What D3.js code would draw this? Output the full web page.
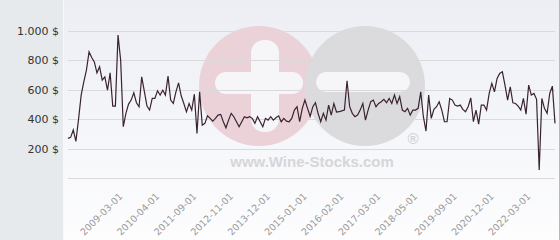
<!DOCTYPE html>
<html><head><meta charset="utf-8">
<script src="https://cdn.jsdelivr.net/npm/d3@7"></script>
<style>body{margin:0;overflow:hidden;background:#fff}svg{display:block}</style>
</head><body><svg id="c" width="560" height="240"></svg>
<script>
// Price series (USD), one value per category
const values = [
271,278,328,251,400,565,655,734,858,820,790,716,757,666,689,598,716,490,490,972,802,350,441,504,531,580,513,486,689,590,490,463,542,542,594,565,598,565,694,531,508,587,648,560,508,451,508,463,571,305,
587,361,373,424,407,388,407,429,434,384,343,395,441,418,384,350,384,418,411,418,407,373,418,384,350,407,395,418,395,411,424,384,407,388,384,407,463,486,384,475,531,475,420,
486,513,441,384,441,395,497,429,508,450,452,458,463,662,486,441,418,429,463,508,395,463,520,531,486,508,520,536,513,542,508,565,508,554,463,452,475,429,463,463,475,587,
418,321,565,407,468,486,520,463,384,384,542,531,497,490,497,468,452,486,546,384,463,368,497,497,463,576,644,587,678,712,723,633,531,621,513,508,490,463,542,436,633,565,576,536,56,542,475,441,576,626,373
];
const tickLabels = ["2009-03-01","2010-04-01","2011-09-01","2012-11-01","2013-12-01","2015-01-01","2016-02-01","2017-03-01","2018-05-01","2019-09-01","2020-12-01","2022-03-01"];
const tickIndex = [21,35,49,63,77,91,105,119,133,148,162,176];
const yTicks = [200,400,600,800,1000];

const W = 560, H = 240;
const svg = d3.select("#c");
const mLeft = 68, mRight = 555, mTop = 31, mBottom = 178.3;

const x = d3.scaleLinear().domain([0, values.length - 1]).range([mLeft, mRight]);
const y = d3.scaleLinear().domain([0, 1000]).range([mBottom, mTop]);
const fmt = d3.formatLocale({decimal: ",", thousands: ".", grouping: [3], currency: ["", " $"]}).format(",");

// background
const defs = svg.append("defs");
const gr = defs.append("linearGradient").attr("id", "bg").attr("x1", 0).attr("y1", 0).attr("x2", 0).attr("y2", 1);
gr.append("stop").attr("offset", "0%").attr("stop-color", "#eceef4");
gr.append("stop").attr("offset", "100%").attr("stop-color", "#fdfdfe");
svg.append("rect").attr("width", W).attr("height", H).attr("fill", "url(#bg)");
svg.append("rect").attr("width", 63).attr("height", H).attr("fill", "#e7eaed");
svg.append("line").attr("x1", 63.5).attr("x2", 63.5).attr("y1", 0).attr("y2", H).attr("stroke", "#f7f8fa");
svg.append("line").attr("x1", 559.5).attr("x2", 559.5).attr("y1", 0).attr("y2", H).attr("stroke", "#b8b8b8");

// watermark
const wm = svg.append("g");
wm.append("circle").attr("cx", 259).attr("cy", 86).attr("r", 60).attr("fill", "#ead2d8");
wm.append("circle").attr("cx", 365).attr("cy", 86).attr("r", 60).attr("fill", "#dbdbdd");
wm.append("rect").attr("x", 215).attr("y", 72).attr("width", 88).attr("height", 22).attr("rx", 11).attr("fill", "#f6f6f9");
wm.append("rect").attr("x", 251).attr("y", 40).attr("width", 28).attr("height", 92).attr("rx", 13).attr("fill", "#f6f6f9");
wm.append("rect").attr("x", 316).attr("y", 72).attr("width", 94).attr("height", 20).attr("rx", 10).attr("fill", "#f6f6f9");
wm.append("text").attr("x", 312).attr("y", 167).attr("text-anchor", "middle")
  .style("font", "bold 15px 'Liberation Sans', Arial, sans-serif").attr("fill", "#d6d6d8").text("www.Wine-Stocks.com");
wm.append("text").attr("x", 413).attr("y", 144).attr("text-anchor", "middle")
  .style("font", "bold 15px 'Liberation Sans', Arial, sans-serif").attr("fill", "#d3d3d5").text("®");

// grid + y labels
svg.append("g").selectAll("line").data([0].concat(yTicks)).join("line")
  .attr("x1", mLeft).attr("x2", mRight)
  .attr("y1", d => Math.round(y(d)) + 0.5).attr("y2", d => Math.round(y(d)) + 0.5)
  .attr("stroke", "#dadadc").attr("stroke-width", 1);
svg.append("g").selectAll("text").data(yTicks).join("text")
  .attr("x", 59).attr("y", d => y(d)).attr("dy", "0.36em").attr("text-anchor", "end")
  .style("font", "11px 'DejaVu Sans', sans-serif").attr("fill", "#333")
  .text(d => fmt(d) + " $");

// x labels
svg.append("g").selectAll("text").data(tickLabels).join("text")
  .attr("transform", (d, i) => `translate(${x(tickIndex[i])},197) rotate(-45)`)
  .attr("text-anchor", "end")
  .style("font", "9.5px 'DejaVu Sans', sans-serif").attr("fill", "#9a9a9a")
  .text(d => d);

// line
svg.append("path").datum(values)
  .attr("d", d3.line().x((d, i) => x(i)).y(d => y(d)))
  .attr("fill", "none").attr("stroke", "#3a2330").attr("stroke-width", 1.2);
</script></body></html>
